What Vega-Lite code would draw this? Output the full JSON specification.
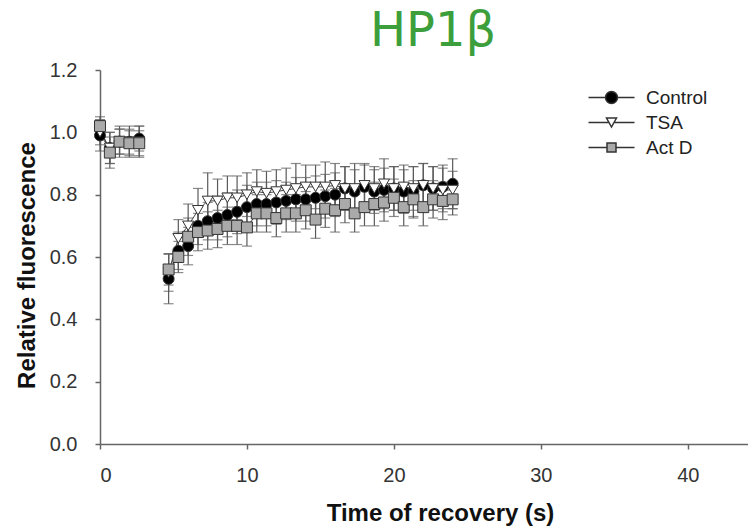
{
  "$schema": "https://vega.github.io/schema/vega-lite/v6.json",
  "width": 648,
  "height": 374,
  "autosize": "none",
  "padding": {"left": 100, "top": 70, "right": 0, "bottom": 82},
  "background": "white",
  "config": {
    "view": {"stroke": null},
    "axis": {"domainColor": "#666", "domainWidth": 1.5, "tickColor": "#666", "tickWidth": 1.5, "labelFont": "Liberation Sans", "labelColor": "#333", "labelFontSize": 20, "titleFont": "Liberation Sans", "titleColor": "#111", "titleFontSize": 24, "titleFontWeight": "bold", "grid": false}
  },
  "title": {"text": "HP1β", "font": "DejaVu Sans", "fontSize": 48, "fontWeight": "normal", "color": "#3c9f3c", "anchor": "middle", "dx": 9, "dy": 46, "offset": 12, "baseline": "alphabetic"},
  "data": {"values": [
    {"series": "Control", "phase": "pre", "time": 0, "rel": 0.99, "err": 0.05},
    {"series": "Control", "phase": "pre", "time": 0.67, "rel": 0.95, "err": 0.05},
    {"series": "Control", "phase": "pre", "time": 1.33, "rel": 0.97, "err": 0.04},
    {"series": "Control", "phase": "pre", "time": 2, "rel": 0.97, "err": 0.04},
    {"series": "Control", "phase": "pre", "time": 2.67, "rel": 0.98, "err": 0.04},
    {"series": "Control", "phase": "rec", "time": 4.67, "rel": 0.53, "err": 0.08},
    {"series": "Control", "phase": "rec", "time": 5.33, "rel": 0.62, "err": 0.06},
    {"series": "Control", "phase": "rec", "time": 6, "rel": 0.635, "err": 0.06},
    {"series": "Control", "phase": "rec", "time": 6.67, "rel": 0.7, "err": 0.06},
    {"series": "Control", "phase": "rec", "time": 7.33, "rel": 0.715, "err": 0.06},
    {"series": "Control", "phase": "rec", "time": 8, "rel": 0.725, "err": 0.07},
    {"series": "Control", "phase": "rec", "time": 8.67, "rel": 0.735, "err": 0.07},
    {"series": "Control", "phase": "rec", "time": 9.33, "rel": 0.745, "err": 0.07},
    {"series": "Control", "phase": "rec", "time": 10, "rel": 0.76, "err": 0.07},
    {"series": "Control", "phase": "rec", "time": 10.67, "rel": 0.77, "err": 0.07},
    {"series": "Control", "phase": "rec", "time": 11.33, "rel": 0.77, "err": 0.07},
    {"series": "Control", "phase": "rec", "time": 12, "rel": 0.775, "err": 0.07},
    {"series": "Control", "phase": "rec", "time": 12.67, "rel": 0.78, "err": 0.06},
    {"series": "Control", "phase": "rec", "time": 13.33, "rel": 0.785, "err": 0.07},
    {"series": "Control", "phase": "rec", "time": 14, "rel": 0.785, "err": 0.07},
    {"series": "Control", "phase": "rec", "time": 14.67, "rel": 0.79, "err": 0.07},
    {"series": "Control", "phase": "rec", "time": 15.33, "rel": 0.795, "err": 0.07},
    {"series": "Control", "phase": "rec", "time": 16, "rel": 0.8, "err": 0.07},
    {"series": "Control", "phase": "rec", "time": 16.67, "rel": 0.82, "err": 0.07},
    {"series": "Control", "phase": "rec", "time": 17.33, "rel": 0.81, "err": 0.07},
    {"series": "Control", "phase": "rec", "time": 18, "rel": 0.825, "err": 0.07},
    {"series": "Control", "phase": "rec", "time": 18.67, "rel": 0.81, "err": 0.07},
    {"series": "Control", "phase": "rec", "time": 19.33, "rel": 0.815, "err": 0.07},
    {"series": "Control", "phase": "rec", "time": 20, "rel": 0.82, "err": 0.07},
    {"series": "Control", "phase": "rec", "time": 20.67, "rel": 0.81, "err": 0.07},
    {"series": "Control", "phase": "rec", "time": 21.33, "rel": 0.81, "err": 0.08},
    {"series": "Control", "phase": "rec", "time": 22, "rel": 0.83, "err": 0.07},
    {"series": "Control", "phase": "rec", "time": 22.67, "rel": 0.82, "err": 0.07},
    {"series": "Control", "phase": "rec", "time": 23.33, "rel": 0.825, "err": 0.07},
    {"series": "Control", "phase": "rec", "time": 24, "rel": 0.835, "err": 0.08},
    {"series": "TSA", "phase": "pre", "time": 0, "rel": 1.0, "err": 0.04},
    {"series": "TSA", "phase": "pre", "time": 0.67, "rel": 0.95, "err": 0.05},
    {"series": "TSA", "phase": "pre", "time": 1.33, "rel": 0.97, "err": 0.05},
    {"series": "TSA", "phase": "pre", "time": 2, "rel": 0.97, "err": 0.05},
    {"series": "TSA", "phase": "pre", "time": 2.67, "rel": 0.97, "err": 0.05},
    {"series": "TSA", "phase": "rec", "time": 4.67, "rel": 0.55, "err": 0.06},
    {"series": "TSA", "phase": "rec", "time": 5.33, "rel": 0.66, "err": 0.06},
    {"series": "TSA", "phase": "rec", "time": 6, "rel": 0.7, "err": 0.07},
    {"series": "TSA", "phase": "rec", "time": 6.67, "rel": 0.75, "err": 0.07},
    {"series": "TSA", "phase": "rec", "time": 7.33, "rel": 0.78, "err": 0.09},
    {"series": "TSA", "phase": "rec", "time": 8, "rel": 0.78, "err": 0.07},
    {"series": "TSA", "phase": "rec", "time": 8.67, "rel": 0.79, "err": 0.07},
    {"series": "TSA", "phase": "rec", "time": 9.33, "rel": 0.79, "err": 0.07},
    {"series": "TSA", "phase": "rec", "time": 10, "rel": 0.8, "err": 0.07},
    {"series": "TSA", "phase": "rec", "time": 10.67, "rel": 0.81, "err": 0.07},
    {"series": "TSA", "phase": "rec", "time": 11.33, "rel": 0.805, "err": 0.07},
    {"series": "TSA", "phase": "rec", "time": 12, "rel": 0.81, "err": 0.07},
    {"series": "TSA", "phase": "rec", "time": 12.67, "rel": 0.815, "err": 0.07},
    {"series": "TSA", "phase": "rec", "time": 13.33, "rel": 0.82, "err": 0.08},
    {"series": "TSA", "phase": "rec", "time": 14, "rel": 0.825, "err": 0.07},
    {"series": "TSA", "phase": "rec", "time": 14.67, "rel": 0.825, "err": 0.07},
    {"series": "TSA", "phase": "rec", "time": 15.33, "rel": 0.825, "err": 0.08},
    {"series": "TSA", "phase": "rec", "time": 16, "rel": 0.83, "err": 0.07},
    {"series": "TSA", "phase": "rec", "time": 16.67, "rel": 0.82, "err": 0.07},
    {"series": "TSA", "phase": "rec", "time": 17.33, "rel": 0.82, "err": 0.08},
    {"series": "TSA", "phase": "rec", "time": 18, "rel": 0.83, "err": 0.07},
    {"series": "TSA", "phase": "rec", "time": 18.67, "rel": 0.82, "err": 0.07},
    {"series": "TSA", "phase": "rec", "time": 19.33, "rel": 0.835, "err": 0.08},
    {"series": "TSA", "phase": "rec", "time": 20, "rel": 0.82, "err": 0.07},
    {"series": "TSA", "phase": "rec", "time": 20.67, "rel": 0.825, "err": 0.07},
    {"series": "TSA", "phase": "rec", "time": 21.33, "rel": 0.82, "err": 0.07},
    {"series": "TSA", "phase": "rec", "time": 22, "rel": 0.83, "err": 0.07},
    {"series": "TSA", "phase": "rec", "time": 22.67, "rel": 0.82, "err": 0.07},
    {"series": "TSA", "phase": "rec", "time": 23.33, "rel": 0.815, "err": 0.07},
    {"series": "TSA", "phase": "rec", "time": 24, "rel": 0.815, "err": 0.06},
    {"series": "Act D", "phase": "pre", "time": 0, "rel": 1.02, "err": 0.03},
    {"series": "Act D", "phase": "pre", "time": 0.67, "rel": 0.935, "err": 0.05},
    {"series": "Act D", "phase": "pre", "time": 1.33, "rel": 0.97, "err": 0.04},
    {"series": "Act D", "phase": "pre", "time": 2, "rel": 0.965, "err": 0.04},
    {"series": "Act D", "phase": "pre", "time": 2.67, "rel": 0.965, "err": 0.04},
    {"series": "Act D", "phase": "rec", "time": 4.67, "rel": 0.56, "err": 0.05},
    {"series": "Act D", "phase": "rec", "time": 5.33, "rel": 0.6, "err": 0.05},
    {"series": "Act D", "phase": "rec", "time": 6, "rel": 0.665, "err": 0.06},
    {"series": "Act D", "phase": "rec", "time": 6.67, "rel": 0.68, "err": 0.06},
    {"series": "Act D", "phase": "rec", "time": 7.33, "rel": 0.685, "err": 0.06},
    {"series": "Act D", "phase": "rec", "time": 8, "rel": 0.69, "err": 0.06},
    {"series": "Act D", "phase": "rec", "time": 8.67, "rel": 0.7, "err": 0.06},
    {"series": "Act D", "phase": "rec", "time": 9.33, "rel": 0.7, "err": 0.06},
    {"series": "Act D", "phase": "rec", "time": 10, "rel": 0.695, "err": 0.06},
    {"series": "Act D", "phase": "rec", "time": 10.67, "rel": 0.74, "err": 0.06},
    {"series": "Act D", "phase": "rec", "time": 11.33, "rel": 0.74, "err": 0.06},
    {"series": "Act D", "phase": "rec", "time": 12, "rel": 0.725, "err": 0.06},
    {"series": "Act D", "phase": "rec", "time": 12.67, "rel": 0.74, "err": 0.06},
    {"series": "Act D", "phase": "rec", "time": 13.33, "rel": 0.74, "err": 0.06},
    {"series": "Act D", "phase": "rec", "time": 14, "rel": 0.75, "err": 0.06},
    {"series": "Act D", "phase": "rec", "time": 14.67, "rel": 0.72, "err": 0.06},
    {"series": "Act D", "phase": "rec", "time": 15.33, "rel": 0.755, "err": 0.06},
    {"series": "Act D", "phase": "rec", "time": 16, "rel": 0.75, "err": 0.07},
    {"series": "Act D", "phase": "rec", "time": 16.67, "rel": 0.77, "err": 0.06},
    {"series": "Act D", "phase": "rec", "time": 17.33, "rel": 0.74, "err": 0.06},
    {"series": "Act D", "phase": "rec", "time": 18, "rel": 0.76, "err": 0.06},
    {"series": "Act D", "phase": "rec", "time": 18.67, "rel": 0.77, "err": 0.07},
    {"series": "Act D", "phase": "rec", "time": 19.33, "rel": 0.775, "err": 0.06},
    {"series": "Act D", "phase": "rec", "time": 20, "rel": 0.79, "err": 0.06},
    {"series": "Act D", "phase": "rec", "time": 20.67, "rel": 0.76, "err": 0.06},
    {"series": "Act D", "phase": "rec", "time": 21.33, "rel": 0.785, "err": 0.06},
    {"series": "Act D", "phase": "rec", "time": 22, "rel": 0.76, "err": 0.06},
    {"series": "Act D", "phase": "rec", "time": 22.67, "rel": 0.785, "err": 0.06},
    {"series": "Act D", "phase": "rec", "time": 23.33, "rel": 0.78, "err": 0.06},
    {"series": "Act D", "phase": "rec", "time": 24, "rel": 0.785, "err": 0.05}
  ]},
  "encoding": {
    "x": {"field": "time", "type": "quantitative", "scale": {"domain": [0, 44.1], "nice": false, "zero": false},
      "axis": {"title": "Time of recovery (s)", "values": [0, 10, 20, 30, 40], "tickSize": 5, "labelPadding": 16, "titleX": 340, "titleY": 76, "titleBaseline": "alphabetic", "titleAlign": "center"}},
    "y": {"field": "rel", "type": "quantitative", "scale": {"domain": [0, 1.2], "nice": false},
      "axis": {"title": "Relative fluorescence", "values": [0, 0.2, 0.4, 0.6, 0.8, 1, 1.2], "format": ".1f", "tickSize": 5, "labelPadding": 18, "titleX": -73, "titleY": 195, "titleAngle": 270, "titleBaseline": "middle", "titleAlign": "center"}}
  },
  "layer": [
    {
      "mark": {"type": "errorbar", "ticks": true, "color": "#5a5a5a", "thickness": 1.2, "size": 10},
      "encoding": {"yError": {"field": "err"}}
    },
    {
      "mark": {"type": "line", "color": "#444", "strokeWidth": 1},
      "encoding": {"detail": [{"field": "series"}, {"field": "phase"}]}
    },
    {
      "mark": {"type": "point", "filled": true, "opacity": 1, "size": 120, "stroke": "#333", "strokeWidth": 1},
      "encoding": {
        "shape": {"field": "series", "type": "nominal", "scale": {"domain": ["Control", "TSA", "Act D"], "range": ["circle", "triangle-down", "square"]}, "legend": null},
        "fill": {"field": "series", "type": "nominal", "scale": {"domain": ["Control", "TSA", "Act D"], "range": ["#000000", "#ffffff", "#aaaaaa"]}, "legend": null}
      }
    },
    {
      "transform": [{"filter": "datum.time > 100"}],
      "mark": {"type": "point", "filled": true, "opacity": 1, "stroke": "#333", "strokeWidth": 1.2},
      "encoding": {
        "shape": {"field": "series", "type": "nominal",
          "scale": {"domain": ["Control", "TSA", "Act D"], "range": [
            "M-4.6,0H-1.2M1.2,0H4.6M1.2,0A1.2,1.2 0 1 1 -1.2,0A1.2,1.2 0 1 1 1.2,0Z",
            "M-4.6,0H-0.5M0.5,0H4.6M-1,-0.9L1,-0.9L0,0.9Z",
            "M-4.6,0H-0.9M0.9,0H4.6M-0.9,-0.9H0.9V0.9H-0.9Z"
          ]},
          "legend": {"title": null, "orient": "none", "legendX": 502, "legendY": 18, "symbolSize": 100, "labelOffset": 25, "labelFont": "Liberation Sans", "labelFontSize": 19, "labelColor": "#222", "rowPadding": 5, "padding": 0}},
        "fill": {"field": "series", "type": "nominal",
          "scale": {"domain": ["Control", "TSA", "Act D"], "range": ["#000000", "#ffffff", "#aaaaaa"]},
          "legend": {"title": null, "orient": "none", "legendX": 502, "legendY": 18, "symbolSize": 100, "labelOffset": 25, "labelFont": "Liberation Sans", "labelFontSize": 19, "labelColor": "#222", "rowPadding": 5, "padding": 0}}
      }
    }
  ],
  "resolve": {"scale": {"shape": "independent", "fill": "independent"}}
}
